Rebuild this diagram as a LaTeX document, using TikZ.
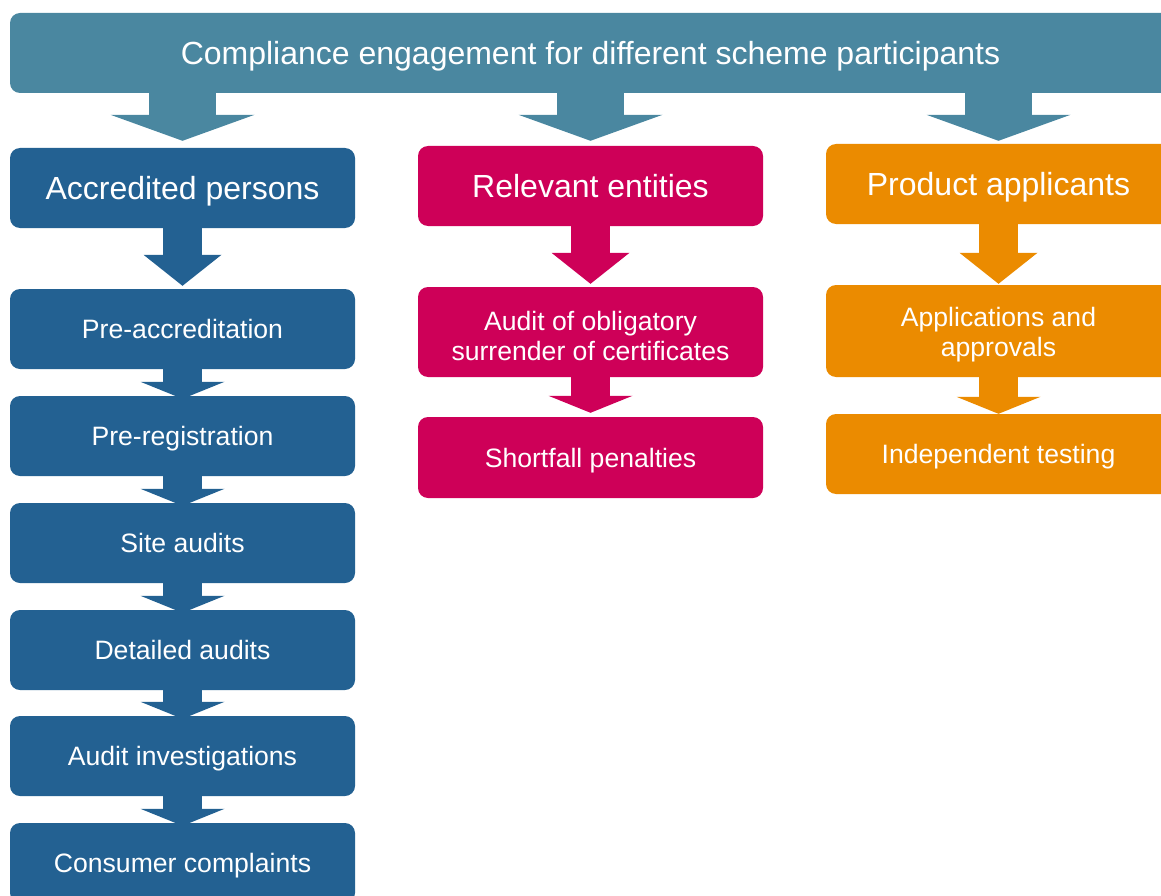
\documentclass[tikz,border=0pt]{standalone}
\usepackage{fontspec}
\setmainfont{Liberation Sans}
\usetikzlibrary{fit,arrows.meta,backgrounds}

\definecolor{cepteal}{HTML}{4A87A0}
\definecolor{apblue}{HTML}{236192}
\definecolor{remag}{HTML}{CE0058}
\definecolor{paorange}{HTML}{EB8B00}
\newcommand\bigtxt{\fontsize{32}{38}\selectfont}
\newcommand\smalltxt{\fontsize{26.6}{30}\selectfont}

\begin{document}
\begin{tikzpicture}[x=1pt, y=-1pt,
    box/.style={rounded corners=10pt, inner sep=0pt},
    title/.style={box, label={[text=white, font=\bigtxt, text height=23pt, text depth=0pt]center:{#1}}},
    item/.style={box, label={[text=white, font=\smalltxt, text height=19pt, text depth=0pt]center:{#1}}},
    itemtwo/.style={box, label={[text=white, font=\smalltxt, align=center, yshift=-4pt]center:{#1}}},
    headarrow/.style={line width=67pt, -{Triangle[width=144pt, length=26pt, line width=0pt]}},
    bigarrow/.style={line width=39pt, -{Triangle[width=78pt, length=31pt, line width=0pt]}},
    smallarrow/.style={line width=39pt, -{Triangle[width=84pt, length=17pt, line width=0pt]}}]
    \useasboundingbox (0,0) rectangle (1161,896);
    \clip (0,0) rectangle (1161,896);

    \node[title={Compliance engagement for different scheme participants}, fill=cepteal, fit={(10,13) (1171,93)}] (cep) {};

    \node[title={Accredited persons}, fill=apblue, fit={(10,148) (355,228)}] (ap) {};
    \node[item={Pre-accreditation}, fill=apblue, fit={(10,289) (355,369)}] (preacc) {};
    \node[item={Pre-registration}, fill=apblue, fit={(10,396) (355,476)}] (prereg) {};
    \node[item={Site audits}, fill=apblue, fit={(10,503) (355,583)}] (site) {};
    \node[item={Detailed audits}, fill=apblue, fit={(10,610) (355,690)}] (det) {};
    \node[item={Audit investigations}, fill=apblue, fit={(10,716) (355,796)}] (inv) {};
    \node[item={Consumer complaints}, fill=apblue, fit={(10,823) (355,903)}] (cc) {};

    \node[title={Relevant entities}, fill=remag, fit={(418,146) (763,226)}] (re) {};
    \node[itemtwo={Audit of obligatory\\surrender of certificates}, fill=remag, fit={(418,287) (763,377)}] (aud) {};
    \node[item={Shortfall penalties}, fill=remag, fit={(418,417) (763,498)}] (sp) {};

    \node[title={Product applicants}, fill=paorange, fit={(826,144) (1171,224)}] (pa) {};
    \node[itemtwo={Applications and\\approvals}, fill=paorange, fit={(826,285) (1171,377)}] (aa) {};
    \node[item={Independent testing}, fill=paorange, fit={(826,414) (1171,494)}] (it) {};

    \begin{scope}[on background layer]
    \draw[headarrow, cepteal, shorten >=7pt] (cep.south -| ap) -- (ap);
    \draw[headarrow, cepteal, shorten >=5pt] (cep.south -| re) -- (re);
    \draw[headarrow, cepteal, shorten >=3pt] (cep.south -| pa) -- (pa);

    \draw[bigarrow, apblue, shorten >=3pt] (ap) -- (preacc);
    \draw[smallarrow, apblue, shorten >=-3pt] (preacc) -- (prereg);
    \draw[smallarrow, apblue, shorten >=-3pt] (prereg) -- (site);
    \draw[smallarrow, apblue, shorten >=-3pt] (site) -- (det);
    \draw[smallarrow, apblue, shorten >=-3pt] (det) -- (inv);
    \draw[smallarrow, apblue, shorten >=-3pt] (inv) -- (cc);

    \draw[bigarrow, remag, shorten >=3pt] (re) -- (aud);
    \draw[smallarrow, remag, shorten >=4pt] (aud) -- (sp);

    \draw[bigarrow, paorange, shorten >=1pt] (pa) -- (aa);
    \draw[smallarrow, paorange] (aa) -- (it);
    \end{scope}
\end{tikzpicture}
\end{document}
